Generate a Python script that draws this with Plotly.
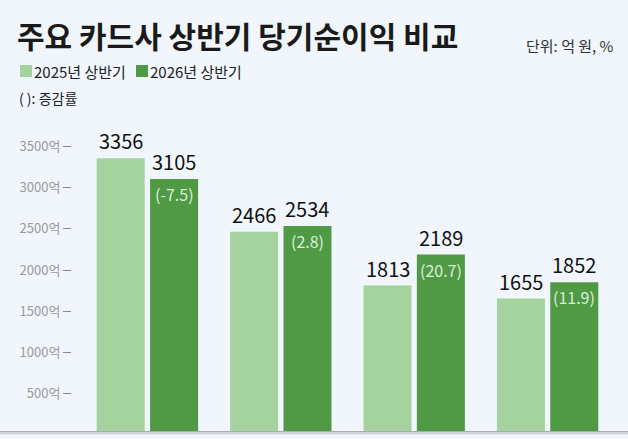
import plotly.graph_objects as go

# ---- data ----
groups = [0, 1, 2, 3]
series_names = ["2025년 상반기", "2026년 상반기"]
profit_2025 = [3356, 2466, 1813, 1655]
profit_2026 = [3105, 2534, 2189, 1852]
change_pct = [-7.5, 2.8, 20.7, 11.9]
tick_vals = [500, 1000, 1500, 2000, 2500, 3000, 3500]
tick_text = ["500억", "1000억", "1500억", "2000억", "2500억", "3000억", "3500억"]

title_text = "주요 카드사 상반기 당기순이익 비교"
unit_text = "단위: 억 원, %"
note_text = "( ): 증감률"

# ---- style ----
W, H = 628, 439
L, R, T, B = 72, 0, 120, 8
PW, PH = W - L - R, H - T - B
BG = "#F0F6FB"
C_LIGHT = "#A5D3A0"
C_DARK = "#509A46"
FONT = "Noto Sans CJK KR"


def px2x(px):
    return (px - L) / PW


def py2y(py):
    return (H - B - py) / PH


fig = go.Figure()
fig.add_trace(go.Bar(x=groups, y=profit_2025, name=series_names[0],
                     marker=dict(color=C_LIGHT, line=dict(width=0)),
                     width=0.36, offset=-0.38, hoverinfo="y"))
fig.add_trace(go.Bar(x=groups, y=profit_2026, name=series_names[1],
                     marker=dict(color=C_DARK, line=dict(width=0)),
                     width=0.36, offset=0.02, hoverinfo="y"))

annotations = []
for g, v1, v2, c in zip(groups, profit_2025, profit_2026, change_pct):
    annotations.append(dict(x=g - 0.2, y=v1, xref="x", yref="y", text=str(v1),
                            showarrow=False, yanchor="bottom", yshift=1,
                            font=dict(family=FONT, size=20, color="#111111")))
    annotations.append(dict(x=g + 0.2, y=v2, xref="x", yref="y", text=str(v2),
                            showarrow=False, yanchor="bottom", yshift=1,
                            font=dict(family=FONT, size=20, color="#111111")))
    annotations.append(dict(x=g + 0.2, y=v2, xref="x", yref="y", text=f"({c})",
                            showarrow=False, yanchor="top", yshift=-1,
                            font=dict(family=FONT, size=16, color="#DCEFD8")))

# title & notes
annotations.append(dict(x=px2x(15), y=py2y(35), xref="paper", yref="paper",
                        text=title_text, showarrow=False, xanchor="left", yanchor="middle",
                        font=dict(family=FONT, size=30, color="#1A1A1A", weight="bold")))
annotations.append(dict(x=px2x(616), y=py2y(46), xref="paper", yref="paper",
                        text=unit_text, showarrow=False, xanchor="right", yanchor="middle",
                        font=dict(family=FONT, size=15, color="#333333")))
annotations.append(dict(x=px2x(32), y=py2y(71), xref="paper", yref="paper",
                        text=series_names[0], showarrow=False, xanchor="left", yanchor="middle",
                        font=dict(family=FONT, size=15, color="#222222")))
annotations.append(dict(x=px2x(148), y=py2y(71), xref="paper", yref="paper",
                        text=series_names[1], showarrow=False, xanchor="left", yanchor="middle",
                        font=dict(family=FONT, size=15, color="#222222")))
annotations.append(dict(x=px2x(17), y=py2y(98), xref="paper", yref="paper",
                        text=note_text, showarrow=False, xanchor="left", yanchor="middle",
                        font=dict(family=FONT, size=14, color="#222222")))

shapes = [
    dict(type="rect", xref="paper", yref="paper", x0=px2x(20), x1=px2x(32),
         y0=py2y(77), y1=py2y(65), fillcolor=C_LIGHT, line=dict(width=0)),
    dict(type="rect", xref="paper", yref="paper", x0=px2x(136), x1=px2x(148),
         y0=py2y(77), y1=py2y(65), fillcolor=C_DARK, line=dict(width=0)),
    dict(type="rect", xref="paper", yref="paper", x0=px2x(0), x1=px2x(W),
         y0=py2y(432.5), y1=py2y(431), fillcolor="#A9ADB1", line=dict(width=0)),
    dict(type="rect", xref="paper", yref="paper", x0=px2x(0), x1=px2x(W),
         y0=py2y(434.5), y1=py2y(432.5), fillcolor="#D2D6DA", line=dict(width=0)),
]

fig.update_layout(
    width=W, height=H,
    margin=dict(l=L, r=R, t=T, b=B, pad=0),
    paper_bgcolor=BG, plot_bgcolor=BG,
    barmode="overlay",
    showlegend=False,
    annotations=annotations,
    shapes=shapes,
    font=dict(family=FONT),
    xaxis=dict(range=[-0.5652, 3.6027], showticklabels=False, showgrid=False,
               zeroline=False, showline=False, ticks="", fixedrange=True),
    yaxis=dict(range=[48.5, 3821.4], tickvals=tick_vals, ticktext=tick_text,
               ticks="outside", ticklen=8, tickwidth=1, tickcolor="#8A8A8A",
               tickfont=dict(family=FONT, size=13, color="#9A9A9A"),
               showgrid=False, zeroline=False, showline=False, fixedrange=True),
)

fig.write_html("out.html", config={"displayModeBar": False})
